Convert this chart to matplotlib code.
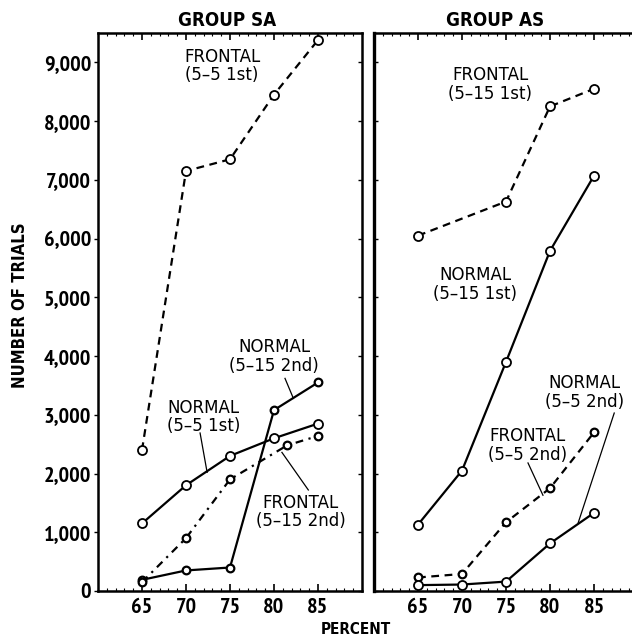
import matplotlib
matplotlib.use("Agg")
import matplotlib.pyplot as plt
from matplotlib.ticker import MultipleLocator, FuncFormatter

# ---------------- data ----------------
pct = [65, 70, 75, 80, 85]

# Group SA
sa_frontal_55_1st = [2400, 7150, 7350, 8450, 9380]
sa_normal_55_1st = [1150, 1800, 2300, 2600, 2850]
sa_normal_515_2nd = [190, 350, 400, 3080, 3550]
sa_frontal_515_2nd_x = [65, 70, 75, 81.5, 85]
sa_frontal_515_2nd = [150, 900, 1900, 2480, 2640]

# Group AS
as_frontal_515_1st_x = [65, 75, 80, 85]
as_frontal_515_1st = [6050, 6630, 8250, 8550]
as_normal_515_1st = [1130, 2050, 3900, 5790, 7070]
as_frontal_55_2nd = [230, 290, 1170, 1750, 2700]
as_normal_55_2nd = [100, 110, 160, 810, 1330]

xticks = [65, 70, 75, 80, 85]
yticks = [0, 1000, 2000, 3000, 4000, 5000, 6000, 7000, 8000, 9000]

# ---------------- figure ----------------
W, H = 632, 643
fig = plt.figure(figsize=(W / 100, H / 100), dpi=100)

tickfont = ['PT Sans Narrow', 'DejaVu Sans']
annfont = ['DejaVu Sans']


def ax_rect(x0, x1, ytop, ybot):
    return [x0 / W, 1 - ybot / H, (x1 - x0) / W, (ybot - ytop) / H]


axL = fig.add_axes(ax_rect(98, 362, 33, 591))
axR = fig.add_axes(ax_rect(374, 638, 33, 591))

for ax in (axL, axR):
    ax.set_xlim(60, 90)
    ax.set_ylim(0, 9500)
    for s in ax.spines.values():
        s.set_linewidth(1.8)
    ax.set_xticks(xticks)
    ax.xaxis.set_minor_locator(MultipleLocator(1))
    ax.set_yticks(yticks)
    ax.tick_params(axis='x', which='major', direction='in', length=5, width=1.2,
                   top=True, bottom=True, pad=5)
    ax.tick_params(axis='x', which='minor', direction='in', length=2.5, width=0.8,
                   top=True, bottom=True)
    for lab in ax.get_xticklabels():
        lab.set_fontfamily(tickfont)
        lab.set_fontweight('bold')
        lab.set_fontsize(16)

axL.yaxis.set_major_formatter(FuncFormatter(lambda v, p: f"{int(v):,}"))
axL.tick_params(axis='y', which='major', direction='out', length=3, width=1.0,
                left=True, right=False, pad=2)
for lab in axL.get_yticklabels():
    lab.set_fontfamily(tickfont)
    lab.set_fontweight('bold')
    lab.set_fontsize(16)
# inward ticks on right spine of left panel
axL2 = axL.secondary_yaxis('right')
axL2.set_yticks(yticks)
axL2.tick_params(direction='in', length=3, width=1.0, labelright=False)
axL2.spines['right'].set_visible(False)

axR.tick_params(axis='y', which='major', direction='in', length=3, width=1.0,
                left=True, right=True, labelleft=False)
axR.spines['left'].set_linewidth(2.4)

lw = 1.6
mk = dict(marker='o', markersize=6.5, markerfacecolor='white',
          markeredgecolor='black', markeredgewidth=1.3, color='black', lw=lw)
mk_small = dict(marker='o', markersize=5.5, markerfacecolor='white',
                markeredgecolor='black', markeredgewidth=1.6, color='black', lw=lw)
dash = (0, (3.5, 2.5))

# Group SA
axL.plot(pct, sa_frontal_55_1st, linestyle=dash, **mk)
axL.plot(pct, sa_normal_55_1st, linestyle='-', **mk)
axL.plot(pct, sa_normal_515_2nd, linestyle='-', **mk_small)
axL.plot(sa_frontal_515_2nd_x, sa_frontal_515_2nd, linestyle=(0, (3.5, 2.5, 1, 2.5)), **mk_small)

# Group AS
axR.plot(as_frontal_515_1st_x, as_frontal_515_1st, linestyle=dash, **mk)
axR.plot(pct, as_normal_515_1st, linestyle='-', **mk)
axR.plot(pct, as_frontal_55_2nd, linestyle=dash, **mk_small)
axR.plot(pct, as_normal_55_2nd, linestyle='-', **mk)

ann = dict(ha='center', va='center', fontsize=12, family=annfont,
           linespacing=1.05)

# labels, left
axL.text(74.1, 8940, "FRONTAL\n(5–5 1st)", **ann)
axL.text(80.0, 3990, "NORMAL\n(5–15 2nd)", **ann)
axL.text(72.0, 2960, "NORMAL\n(5–5 1st)", **ann)
axL.text(83.0, 1345, "FRONTAL\n(5–15 2nd)", **ann)
axL.plot([81.25, 82.2], [3620, 3280], color='black', lw=0.9)
axL.plot([71.6, 72.4], [2690, 2020], color='black', lw=0.9)
axL.plot([80.9, 83.9], [2360, 1720], color='black', lw=0.9)

# labels, right
axR.text(73.2, 8620, "FRONTAL\n(5–15 1st)", **ann)
axR.text(71.5, 5220, "NORMAL\n(5–15 1st)", **ann)
axR.text(83.9, 3380, "NORMAL\n(5–5 2nd)", **ann)
axR.text(77.4, 2480, "FRONTAL\n(5–5 2nd)", **ann)
axR.plot([87.3, 83.2], [3030, 1160], color='black', lw=0.9)
axR.plot([77.5, 79.2], [2180, 1630], color='black', lw=0.9)

# titles and axis labels
bold_cond = dict(family=['DejaVu Sans'], fontweight='bold', fontstretch='condensed')
fig.text(227 / W, 1 - 20 / H, "GROUP SA", ha='center', va='center',
         fontsize=13.5, **bold_cond)
fig.text(495 / W, 1 - 20 / H, "GROUP AS", ha='center', va='center',
         fontsize=13.5, **bold_cond)
fig.text(20 / W, 1 - 305 / H, "NUMBER OF TRIALS", ha='center', va='center',
         rotation=90, fontsize=12, **bold_cond)
fig.text(356 / W, 1 - 630 / H, "PERCENT", ha='center', va='center',
         fontsize=11, **bold_cond)

fig.savefig("out.png", dpi=100)
